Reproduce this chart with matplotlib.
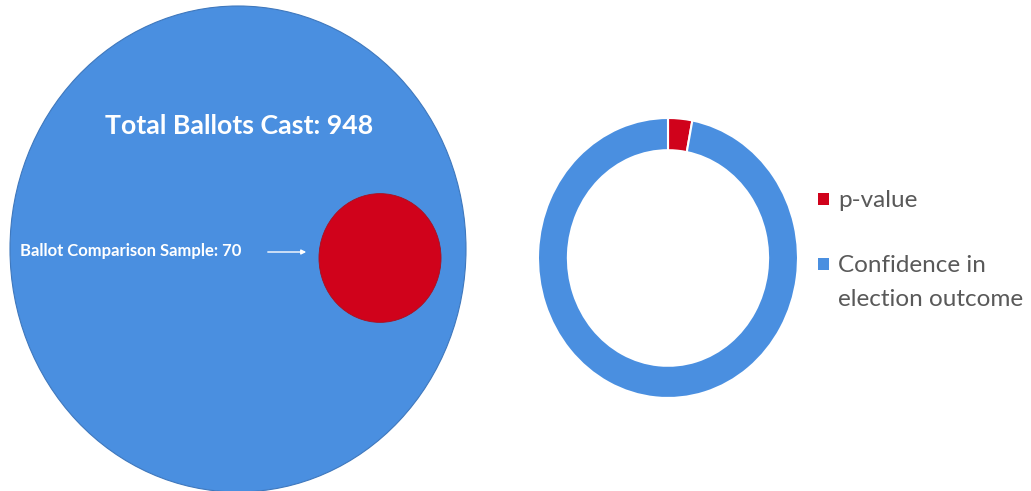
import numpy as np
import matplotlib.pyplot as plt
from matplotlib.patches import Ellipse, Rectangle

# values
total_ballots = 948
sample_ballots = 70
donut_labels = ["p-value", "Confidence in\nelection outcome"]
donut_values = [0.03, 0.97]

blue = "#4A8FE0"
red = "#D0021B"
colors = [red, blue]

plt.rcParams['font.family'] = ['Lato', 'DejaVu Sans']

fig = plt.figure(figsize=(10.31, 4.91), dpi=100)

# left part: ballots drawn as areas, in pixel coordinates
ax = fig.add_axes([0, 0, 1, 1])
ax.set_xlim(0, 1031)
ax.set_ylim(491, 0)
ax.axis("off")

big_w, big_h = 456, 486
ax.add_patch(Ellipse((238, 249), big_w, big_h, facecolor=blue, edgecolor="#3f78bd", lw=0.8))

scale = np.sqrt(sample_ballots / total_ballots)
ax.add_patch(Ellipse((380, 258), big_w * scale * 0.985, big_h * scale * 0.975,
                     facecolor=red, edgecolor="#a8101f", lw=0.6))

ax.text(239, 126, "Total Ballots Cast: %d" % total_ballots, color="white",
        fontsize=19.3, fontweight="bold", ha="center", va="center")
ax.text(20, 251, "Ballot Comparison Sample: %d" % sample_ballots, color="white",
        fontsize=12, fontweight="bold", ha="left", va="center")
ax.annotate("", xy=(309, 252), xytext=(265, 252),
            arrowprops=dict(arrowstyle="-|>", color="white", lw=1, mutation_scale=7))

# right part: donut
ax2 = fig.add_axes([538 / 1031, (491 - 398) / 491, 260 / 1031, 280 / 491])
wedges, _ = ax2.pie(donut_values, colors=colors, startangle=90, counterclock=False,
                    wedgeprops=dict(width=0.23, edgecolor="white", linewidth=1.5))
ax2.set_aspect("auto")
ax2.set_xlim(-1, 1)
ax2.set_ylim(-1, 1)

# legend
legend_y = [207, 272]
for label, c, y in zip(donut_labels, colors, legend_y):
    ax.add_patch(Rectangle((818, y - 14), 11, 12, facecolor=c, edgecolor="none"))
    for i, line in enumerate(label.split("\n")):
        ax.text(838, y + i * 34, line, color="#595959", fontsize=17.5,
                ha="left", va="baseline")

fig.savefig("out.png", dpi=100)
